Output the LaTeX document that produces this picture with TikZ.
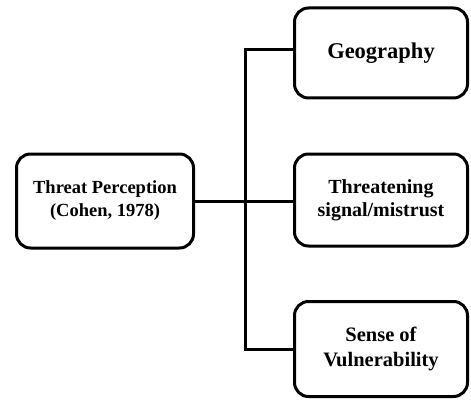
\documentclass[tikz,border=0pt]{standalone}
\usepackage{fontspec}
\setmainfont{Liberation Serif}
\usepackage{tikz}
\usetikzlibrary{positioning}

\begin{document}
\begin{tikzpicture}[x=1pt,y=-1pt,
  box/.style={draw,line width=3pt,rounded corners=14pt,align=center,
    font=\fontsize{20}{23}\selectfont\bfseries},
  link/.style={line width=3pt}]
\useasboundingbox (0,0) rectangle (471,401);
\node[box,minimum width=177pt,minimum height=94pt,
  font=\fontsize{18.5}{23}\selectfont\bfseries] (threat) at (105,201) {Threat Perception\\(Cohen, 1978)};
\node[box,minimum width=173pt,minimum height=90pt,
  font=\fontsize{22.5}{24}\selectfont\bfseries] (geo) at (381,53) {Geography};
\node[box,minimum width=173pt,minimum height=92pt] (signal) at (381,200) {Threatening\\signal/mistrust};
\node[box,minimum width=173pt,minimum height=95pt,
  font=\fontsize{20.5}{25}\selectfont\bfseries] (sense) at (381,349) {Sense of\\Vulnerability};
\coordinate (trunk) at (245,201);
\draw[link] (threat.east) -- (signal.west |- threat.east);
\draw[link] ([yshift=3pt]geo.west) -| (trunk) |- (sense.west);
\end{tikzpicture}
\end{document}
